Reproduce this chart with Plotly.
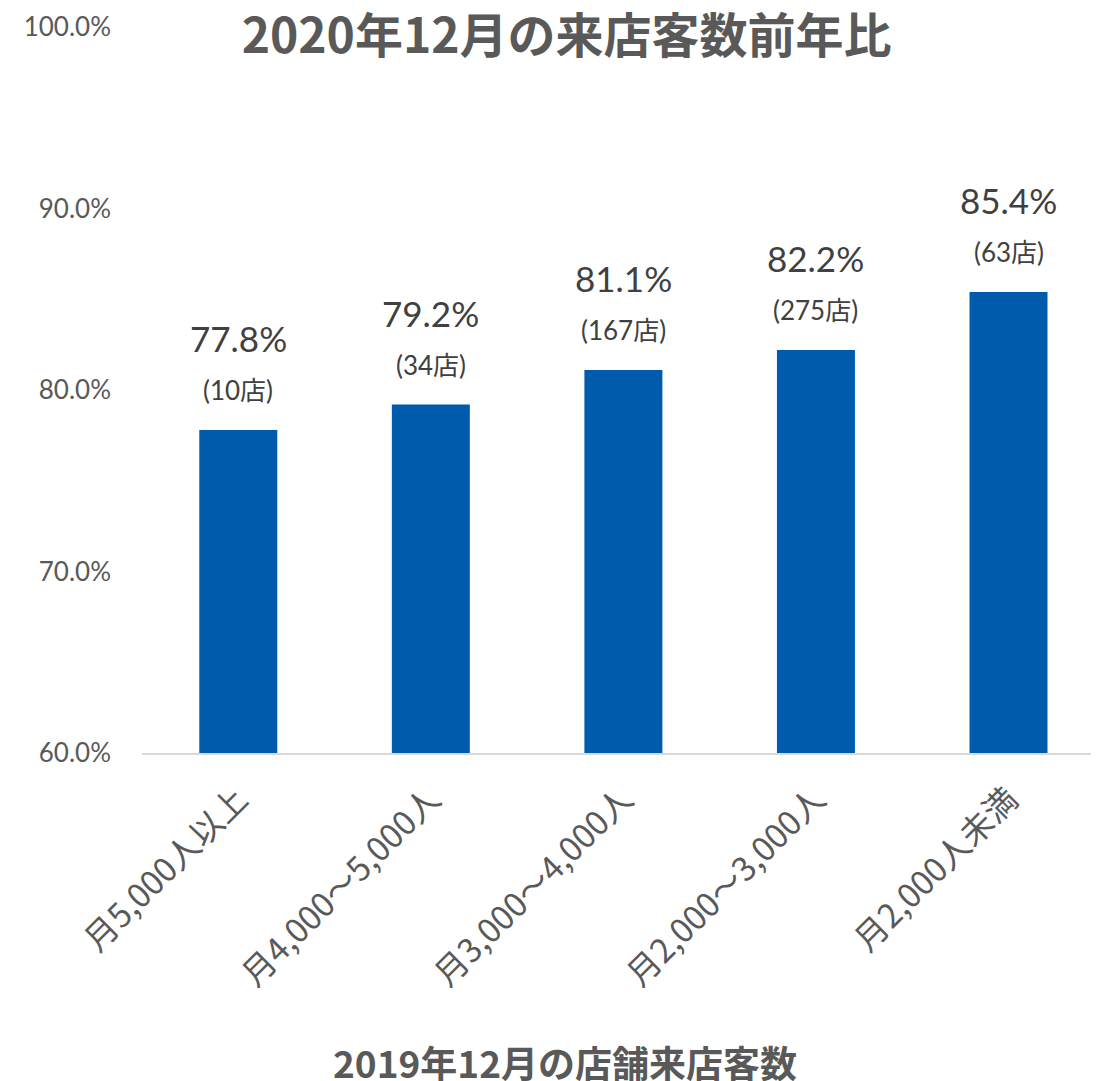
import plotly.graph_objects as go

# 2019年12月の店舗来店客数 (category) -> 前年比 (%)
categories = ["月5,000人以上", "月4,000～5,000人", "月3,000～4,000人", "月2,000～3,000人", "月2,000人未満"]
ratios = [77.8, 79.2, 81.1, 82.2, 85.4]
store_counts = [10, 34, 167, 275, 63]
y_ticks = [60, 70, 80, 90, 100]

GRAY = "#595959"
BLUE = "#005BAC"
NUM_FONT = "Lato, Noto Sans CJK JP"
JP_FONT = "Noto Sans CJK JP"

fig = go.Figure()

fig.add_trace(go.Bar(
    x=categories,
    y=ratios,
    marker=dict(color=BLUE, line=dict(width=0)),
    width=0.405,
    hoverinfo="skip",
))

# value labels: percentage on top, number of stores below it
for cat, v, n in zip(categories, ratios, store_counts):
    fig.add_annotation(
        x=cat, y=v, xref="x", yref="y",
        text=f"{v:.1f}%",
        showarrow=False, yanchor="middle", yshift=92,
        font=dict(family=NUM_FONT, size=35, color="#404040"),
    )
    fig.add_annotation(
        x=cat, y=v, xref="x", yref="y",
        text=f"({n}店)",
        showarrow=False, yanchor="middle", yshift=40,
        font=dict(family=NUM_FONT, size=26, color="#404040"),
    )

fig.add_annotation(
    text="<b>2019年12月の店舗来店客数</b>",
    xref="paper", yref="paper", x=0.442, y=-0.4256,
    showarrow=False, yanchor="middle",
    font=dict(family=JP_FONT, size=37, color=GRAY),
)

fig.update_layout(
    title=dict(
        text="<b>2020年12月の来店客数前年比</b>",
        font=dict(family=JP_FONT, size=48, color=GRAY),
        x=0.512, xanchor="center", xref="container",
        y=1 - 28 / 1073, yanchor="middle", yref="container",
    ),
    xaxis=dict(
        range=[-0.5, 4.47],
        showline=True, linecolor="#D9D9D9", linewidth=2,
        showgrid=False, ticks="", tickangle=-45,
        tickfont=dict(family=JP_FONT, size=33, color=GRAY),
        ticklabelstandoff=12,
    ),
    yaxis=dict(
        range=[60, 100], tickvals=y_ticks,
        ticktext=[f"{t:.1f}%" for t in y_ticks],
        showgrid=False, zeroline=False, showline=False,
        tickfont=dict(family=NUM_FONT, size=26, color=GRAY),
        ticklabelstandoff=30,
    ),
    width=1091, height=1073,
    margin=dict(l=134, r=0, t=19, b=328, autoexpand=False),
    plot_bgcolor="white", paper_bgcolor="white",
    showlegend=False,
)

fig.write_html("out.html")
